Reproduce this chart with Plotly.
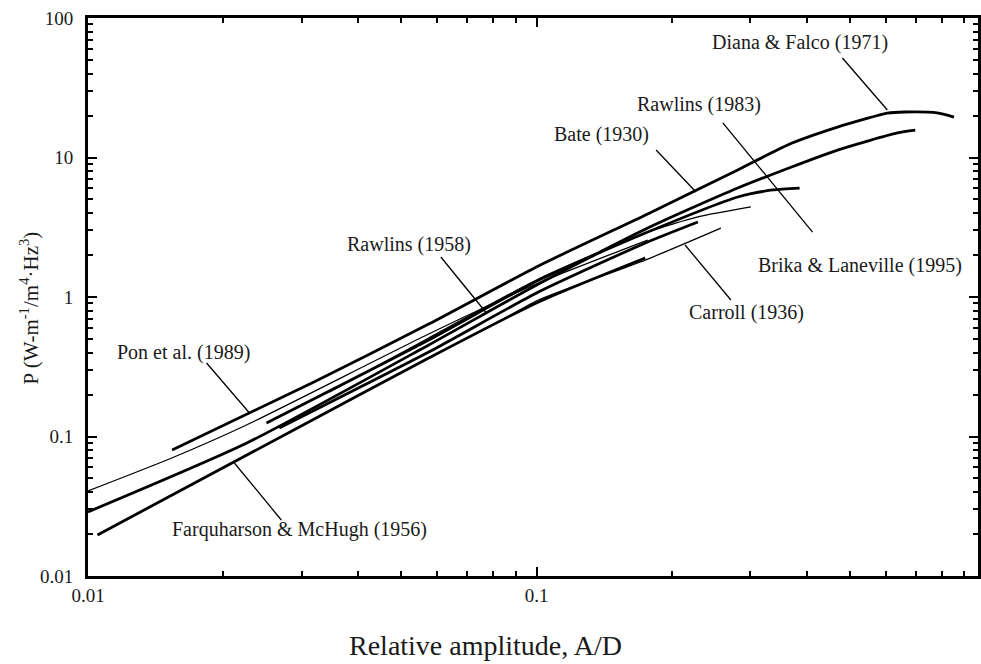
import numpy as np
import plotly.graph_objects as go

# ---------------- data ----------------
diana_x = [0.0154, 0.0319, 0.0575, 0.101, 0.177, 0.281, 0.363, 0.469, 0.606, 0.661, 0.782, 0.853]
diana_y = [0.080, 0.246, 0.640, 1.67, 3.94, 8.14, 12.3, 16.5, 20.8, 21.2, 20.9, 19.5]

brika_x = [0.01, 0.0226, 0.0575, 0.101, 0.177, 0.281, 0.469, 0.638, 0.699]
brika_y = [0.0288, 0.0898, 0.453, 1.24, 3.12, 6.04, 11.3, 15.0, 15.7]

rawlins83_x = [0.0250, 0.0575, 0.101, 0.177, 0.281, 0.336, 0.386]
rawlins83_y = [0.125, 0.492, 1.32, 2.92, 5.21, 5.85, 6.04]

rawlins58_x = [0.0267, 0.0575, 0.101, 0.177, 0.229]
rawlins58_y = [0.115, 0.403, 1.086, 2.48, 3.45]

bate_x = [0.0345, 0.0575, 0.101, 0.177, 0.229, 0.3006]
bate_y = [0.208, 0.508, 1.346, 2.92, 3.75, 4.42]

pon_x = [0.01, 0.01537, 0.02256, 0.0575, 0.101, 0.177]
pon_y = [0.0407, 0.0701, 0.1209, 0.543, 1.26, 2.56]

farq_x = [0.0105, 0.0296, 0.0575, 0.101, 0.1747]
farq_y = [0.0197, 0.117, 0.365, 0.921, 1.904]

carroll_x = [0.0823, 0.101, 0.1747, 0.2577]
carroll_y = [0.662, 0.952, 1.84, 3.12]

# label text, label centre (x, y), leader start (x, y), leader end (x, y)
labels = ["Diana & Falco (1971)", "Rawlins (1983)", "Bate (1930)", "Rawlins (1958)",
          "Brika & Laneville (1995)", "Carroll (1936)", "Pon et al. (1989)",
          "Farquharson & McHugh (1956)"]
label_x = [0.386, 0.2303, 0.1394, 0.0519, 0.5275, 0.2944, 0.01634, 0.0296]
label_y = [66.2, 23.8, 14.5, 2.36, 1.696, 0.768, 0.4034, 0.02137]

leader_x0 = [0.481, 0.2603, 0.1848, 0.0612, None, 0.2713, 0.01838, 0.02698]
leader_y0 = [51.7, 17.7, 11.32, 1.935, None, 0.952, 0.3363, 0.0252]
leader_x1 = [0.6057, 0.4126, 0.2268, 0.0770, None, 0.2144, 0.02291, 0.0212]
leader_y1 = [21.9, 2.92, 5.66, 0.781, None, 2.36, 0.1474, 0.0646]

x_major = [0.01, 0.1]
x_minor = [m * d for d in (0.01, 0.1) for m in range(2, 10)]
y_major = [0.01, 0.1, 1, 10, 100]
y_minor = [m * d for d in (0.01, 0.1, 1, 10) for m in range(2, 10)]
x_ticktext = ["0.01", "0.1"]
y_ticktext = ["0.01", "0.1", "1", "10", "100"]

x_title = "Relative amplitude, A/D"
y_title = "P (W-m<sup>-1</sup>/m<sup>4</sup>·Hz<sup>3</sup>)"

# ---------------- figure ----------------
FONT = "Liberation Serif, Times New Roman, serif"
INK = "#1a1a1a"
fig = go.Figure()

thick = [(diana_x, diana_y), (brika_x, brika_y), (rawlins83_x, rawlins83_y),
         (rawlins58_x, rawlins58_y), (farq_x, farq_y)]
thin = [(bate_x, bate_y), (pon_x, pon_y), (carroll_x, carroll_y)]

for xs, ys in thick:
    fig.add_trace(go.Scatter(x=xs, y=ys, mode="lines",
                             line=dict(color="black", width=2.8, shape="spline", smoothing=0.6),
                             showlegend=False, hoverinfo="skip"))
for xs, ys in thin:
    fig.add_trace(go.Scatter(x=xs, y=ys, mode="lines",
                             line=dict(color="black", width=1.3, shape="spline", smoothing=0.6),
                             showlegend=False, hoverinfo="skip"))

# leader lines
for i in range(len(labels)):
    if leader_x0[i] is None:
        continue
    fig.add_trace(go.Scatter(x=[leader_x0[i], leader_x1[i]], y=[leader_y0[i], leader_y1[i]], mode="lines",
                             line=dict(color="black", width=1.3), showlegend=False, hoverinfo="skip"))

for i, t in enumerate(labels):
    fig.add_annotation(x=np.log10(label_x[i]), y=np.log10(label_y[i]), text=t, showarrow=False,
                       xref="x", yref="y", xanchor="center", yanchor="middle",
                       font=dict(family=FONT, size=20, color=INK))

# axis titles placed as annotations (positions as in the reference)
fig.add_annotation(text=x_title, xref="paper", yref="paper", x=0.4468, y=-0.1237, showarrow=False,
                   xanchor="center", yanchor="middle", font=dict(family=FONT, size=28, color=INK))
fig.add_annotation(text=y_title, xref="paper", yref="paper", x=-0.066, y=0.48, showarrow=False,
                   xanchor="center", yanchor="middle", textangle=-90,
                   font=dict(family=FONT, size=21, color=INK))

axis_common = dict(type="log", showgrid=False, zeroline=False, showline=True, linecolor="black", linewidth=3,
                   mirror="ticks", ticks="inside", ticklen=9, tickwidth=2, tickcolor="black",
                   tickfont=dict(family=FONT, size=19, color=INK))

fig.update_xaxes(**axis_common, range=[-2, -0.0156], tickmode="array", tickvals=x_major, ticktext=x_ticktext,
                 ticklabelstandoff=0,
                 minor=dict(tickmode="array", tickvals=x_minor, ticks="inside", ticklen=5, tickwidth=2,
                            tickcolor="black"))
fig.update_yaxes(**axis_common, range=[-2, 2], tickmode="array", tickvals=y_major, ticktext=y_ticktext,
                 ticklabelstandoff=8,
                 minor=dict(tickmode="array", tickvals=y_minor, ticks="inside", ticklen=5, tickwidth=2,
                            tickcolor="black"))

fig.update_layout(width=981, height=664, margin=dict(l=88, r=0, t=18, b=88),
                  plot_bgcolor="white", paper_bgcolor="white")

fig.write_html("out.html")
